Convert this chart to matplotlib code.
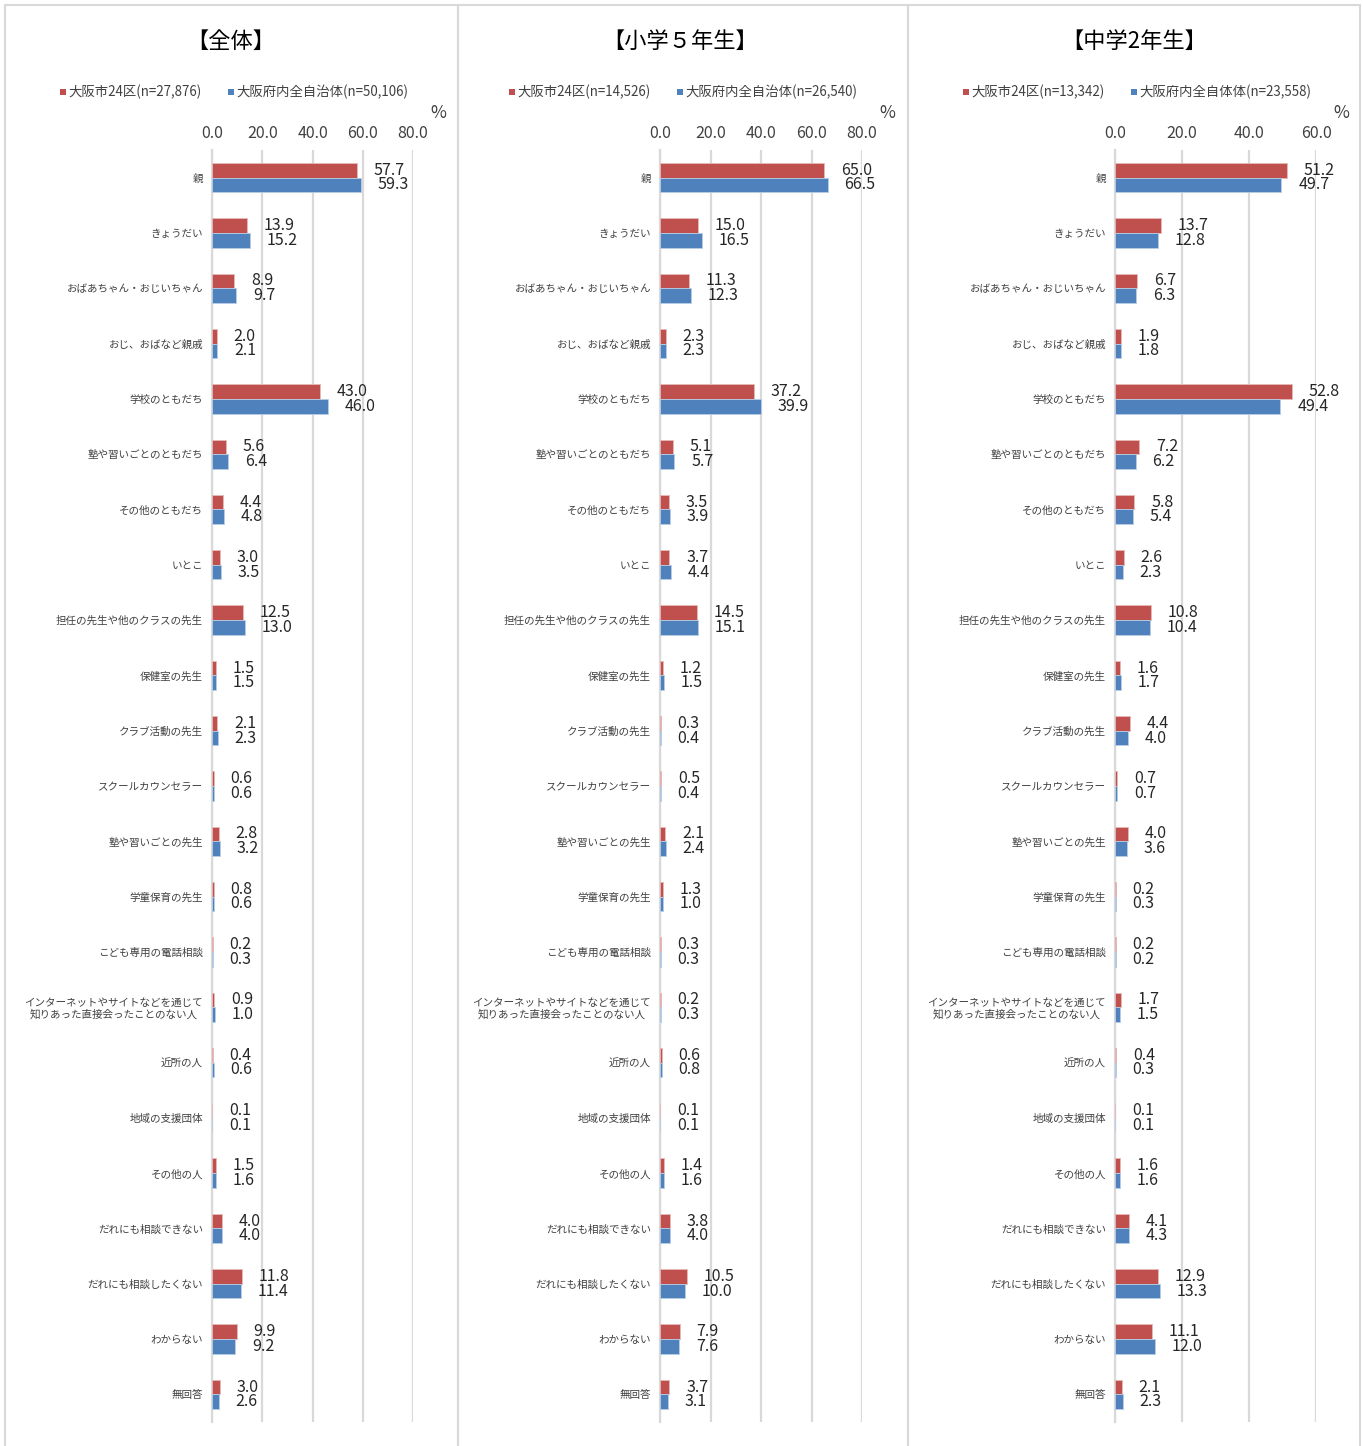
import matplotlib
matplotlib.use('Agg')
import matplotlib.pyplot as plt
from matplotlib.patches import Rectangle

plt.rcParams['font.family'] = ['Noto Sans CJK JP', 'DejaVu Sans']

# ---------------- data ----------------
categories = [
    '親', 'きょうだい', 'おばあちゃん・おじいちゃん', 'おじ、おばなど親戚',
    '学校のともだち', '塾や習いごとのともだち', 'その他のともだち', 'いとこ',
    '担任の先生や他のクラスの先生', '保健室の先生', 'クラブ活動の先生',
    'スクールカウンセラー', '塾や習いごとの先生', '学童保育の先生',
    'こども専用の電話相談',
    'インターネットやサイトなどを通じて\n知りあった直接会ったことのない人',
    '近所の人', '地域の支援団体', 'その他の人', 'だれにも相談できない',
    'だれにも相談したくない', 'わからない', '無回答',
]

titles = ['【全体】', '【小学５年生】', '【中学2年生】']
legend_red = ['大阪市24区(n=27,876)', '大阪市24区(n=14,526)', '大阪市24区(n=13,342)']
legend_blue = ['大阪府内全自治体(n=50,106)', '大阪府内全自治体(n=26,540)', '大阪府内全自体体(n=23,558)']

all_red = [57.7, 13.9, 8.9, 2.0, 43.0, 5.6, 4.4, 3.0, 12.5, 1.5, 2.1, 0.6, 2.8, 0.8,
           0.2, 0.9, 0.4, 0.1, 1.5, 4.0, 11.8, 9.9, 3.0]
all_blue = [59.3, 15.2, 9.7, 2.1, 46.0, 6.4, 4.8, 3.5, 13.0, 1.5, 2.3, 0.6, 3.2, 0.6,
            0.3, 1.0, 0.6, 0.1, 1.6, 4.0, 11.4, 9.2, 2.6]

g5_red = [65.0, 15.0, 11.3, 2.3, 37.2, 5.1, 3.5, 3.7, 14.5, 1.2, 0.3, 0.5, 2.1, 1.3,
          0.3, 0.2, 0.6, 0.1, 1.4, 3.8, 10.5, 7.9, 3.7]
g5_blue = [66.5, 16.5, 12.3, 2.3, 39.9, 5.7, 3.9, 4.4, 15.1, 1.5, 0.4, 0.4, 2.4, 1.0,
           0.3, 0.3, 0.8, 0.1, 1.6, 4.0, 10.0, 7.6, 3.1]

m2_red = [51.2, 13.7, 6.7, 1.9, 52.8, 7.2, 5.8, 2.6, 10.8, 1.6, 4.4, 0.7, 4.0, 0.2,
          0.2, 1.7, 0.4, 0.1, 1.6, 4.1, 12.9, 11.1, 2.1]
m2_blue = [49.7, 12.8, 6.3, 1.8, 49.4, 6.2, 5.4, 2.3, 10.4, 1.7, 4.0, 0.7, 3.6, 0.3,
           0.2, 1.5, 0.3, 0.1, 1.6, 4.3, 13.3, 12.0, 2.3]

x_ticks = [[0, 20, 40, 60, 80], [0, 20, 40, 60, 80], [0, 20, 40, 60]]
x_max = [80, 80, 60]

reds = [all_red, g5_red, m2_red]
blues = [all_blue, g5_blue, m2_blue]

# ---------------- layout (pixels) ----------------
W, H = 1363, 1446
RED = '#C0504D'
BLUE = '#4F81BD'
GRID = '#D9D9D9'
TXT = '#404040'

ax_left = [212, 660, 1115]
ax_right = [413, 862, 1316]
ax_top, ax_bot = 150, 1422
panel_x = [(5, 458), (458, 908), (908, 1360)]
title_cx = [231, 680, 1134]
leg_red_x = [60, 509, 963]
leg_blue_x = [228, 677, 1131]


def fx(p):
    return p / W


def fy(p):
    return 1 - p / H


fig = plt.figure(figsize=(W / 100, H / 100), dpi=100)

for i in range(3):
    # panel border
    x0, x1 = panel_x[i]
    fig.patches.append(Rectangle((fx(x0), fy(1460)), fx(x1 - x0), (1460 - 5) / H,
                                 transform=fig.transFigure, fill=False,
                                 edgecolor=GRID, lw=1.5, zorder=0))

    ax = fig.add_axes([fx(ax_left[i]), fy(ax_bot), fx(ax_right[i] - ax_left[i]),
                       (ax_bot - ax_top) / H])
    n = len(categories)
    ys = list(range(n))
    h = 0.265
    ax.barh([y - h / 2 for y in ys], reds[i], height=h, color=RED,
            edgecolor='#E6B9B8', lw=0.6, zorder=3)
    ax.barh([y + h / 2 for y in ys], blues[i], height=h, color=BLUE,
            edgecolor='#B9CDE5', lw=0.6, zorder=3)

    for y, v in zip(ys, reds[i]):
        ax.annotate(f'{v:.1f}', (v, y - h / 2), xytext=(12, 0),
                    textcoords='offset points', ha='left', va='center',
                    fontsize=11.5, color='#262626', annotation_clip=False)
    for y, v in zip(ys, blues[i]):
        ax.annotate(f'{v:.1f}', (v, y + h / 2), xytext=(12, 0),
                    textcoords='offset points', ha='left', va='center',
                    fontsize=11.5, color='#262626', annotation_clip=False)

    ax.set_xlim(0, x_max[i])
    ax.set_ylim(n - 0.5, -0.5)
    ax.set_xticks(x_ticks[i])
    ax.set_xticklabels([f'{t:.1f}' for t in x_ticks[i]], fontsize=11.5, color=TXT)
    ax.xaxis.tick_top()
    ax.tick_params(axis='x', length=0, pad=6)
    ax.set_yticks(ys)
    ax.set_yticklabels(categories, fontsize=7.6, color=TXT, multialignment='center')
    ax.tick_params(axis='y', length=0, pad=6.5)
    ax.grid(axis='x', color=GRID, lw=1.6, zorder=0)
    ax.set_axisbelow(True)
    for s in ['top', 'right', 'bottom']:
        ax.spines[s].set_visible(False)
    ax.spines['left'].set_color(GRID)
    ax.spines['left'].set_linewidth(1.6)

    # title
    fig.text(fx(title_cx[i]), fy(41), titles[i], ha='center', va='center',
             fontsize=16, color='#000000')
    # percent sign
    fig.text(fx(ax_right[i] + 25), fy(113), '%', ha='center', va='center',
             fontsize=12.5, color=TXT)
    # legend
    for lx, label, col in [(leg_red_x[i], legend_red[i], RED),
                           (leg_blue_x[i], legend_blue[i], BLUE)]:
        fig.patches.append(Rectangle((fx(lx), fy(95)), fx(6), 6 / H,
                                     transform=fig.transFigure, color=col, lw=0))
        fig.text(fx(lx + 8), fy(92), label, ha='left', va='center',
                 fontsize=9.6, color=TXT)

fig.savefig('out.png', dpi=100, facecolor='white')
